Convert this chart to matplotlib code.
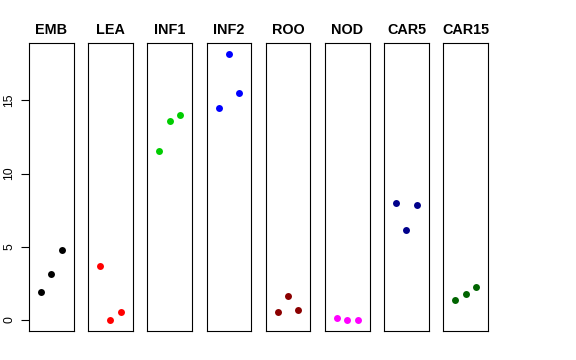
import matplotlib
matplotlib.use("Agg")
import matplotlib.pyplot as plt

plt.rcParams['font.family'] = ['Liberation Sans', 'DejaVu Sans']

categories = ["EMB", "LEA", "INF1", "INF2", "ROO", "NOD", "CAR5", "CAR15"]
values = {
    "EMB":   [1.93, 3.12, 4.80],
    "LEA":   [3.69, 0.00, 0.55],
    "INF1":  [11.56, 13.60, 13.97],
    "INF2":  [14.50, 18.18, 15.47],
    "ROO":   [0.57, 1.64, 0.70],
    "NOD":   [0.16, 0.03, -0.02],
    "CAR5":  [8.01, 6.12, 7.87],
    "CAR15": [1.34, 1.77, 2.23],
}
colors = ["black", "red", "#00CD00", "blue", "#8B0000", "magenta", "#00008B", "#006400"]
yticks = [0, 5, 10, 15]
xpos = [1, 2, 3]

W, H = 576, 360
fig = plt.figure(figsize=(W / 100, H / 100), dpi=100)

ymin = min(min(v) for v in values.values())
ymax = max(max(v) for v in values.values())
yr = ymax - ymin
ylim = (ymin - 0.04 * yr, ymax + 0.04 * yr)
xlim = (0 - 0.16, 4 + 0.16)

left0 = 29
pw = 44.5
step = 59.2
top_px = 43
bot_px = 331

for i, cat in enumerate(categories):
    l = (left0 + i * step) / W
    b = (H - bot_px) / H
    ax = fig.add_axes([l, b, pw / W, (bot_px - top_px) / H])
    ax.plot(xpos, values[cat], 'o', color=colors[i], markersize=5.0, markeredgewidth=0)
    ax.set_xlim(*xlim)
    ax.set_ylim(*ylim)
    ax.set_xticks([])
    for s in ax.spines.values():
        s.set_linewidth(0.8)
        s.set_color("black")
    ax.set_title(cat, fontsize=10.4, fontweight='bold', pad=6.5)
    if i == 0:
        ax.set_yticks(yticks)
        ax.set_yticklabels([str(t) for t in yticks], rotation=90, va='center', fontsize=8.8)
        ax.tick_params(axis='y', length=5.5, width=0.8, pad=4.5)
    else:
        ax.set_yticks([])

fig.savefig("out.png", dpi=100)
